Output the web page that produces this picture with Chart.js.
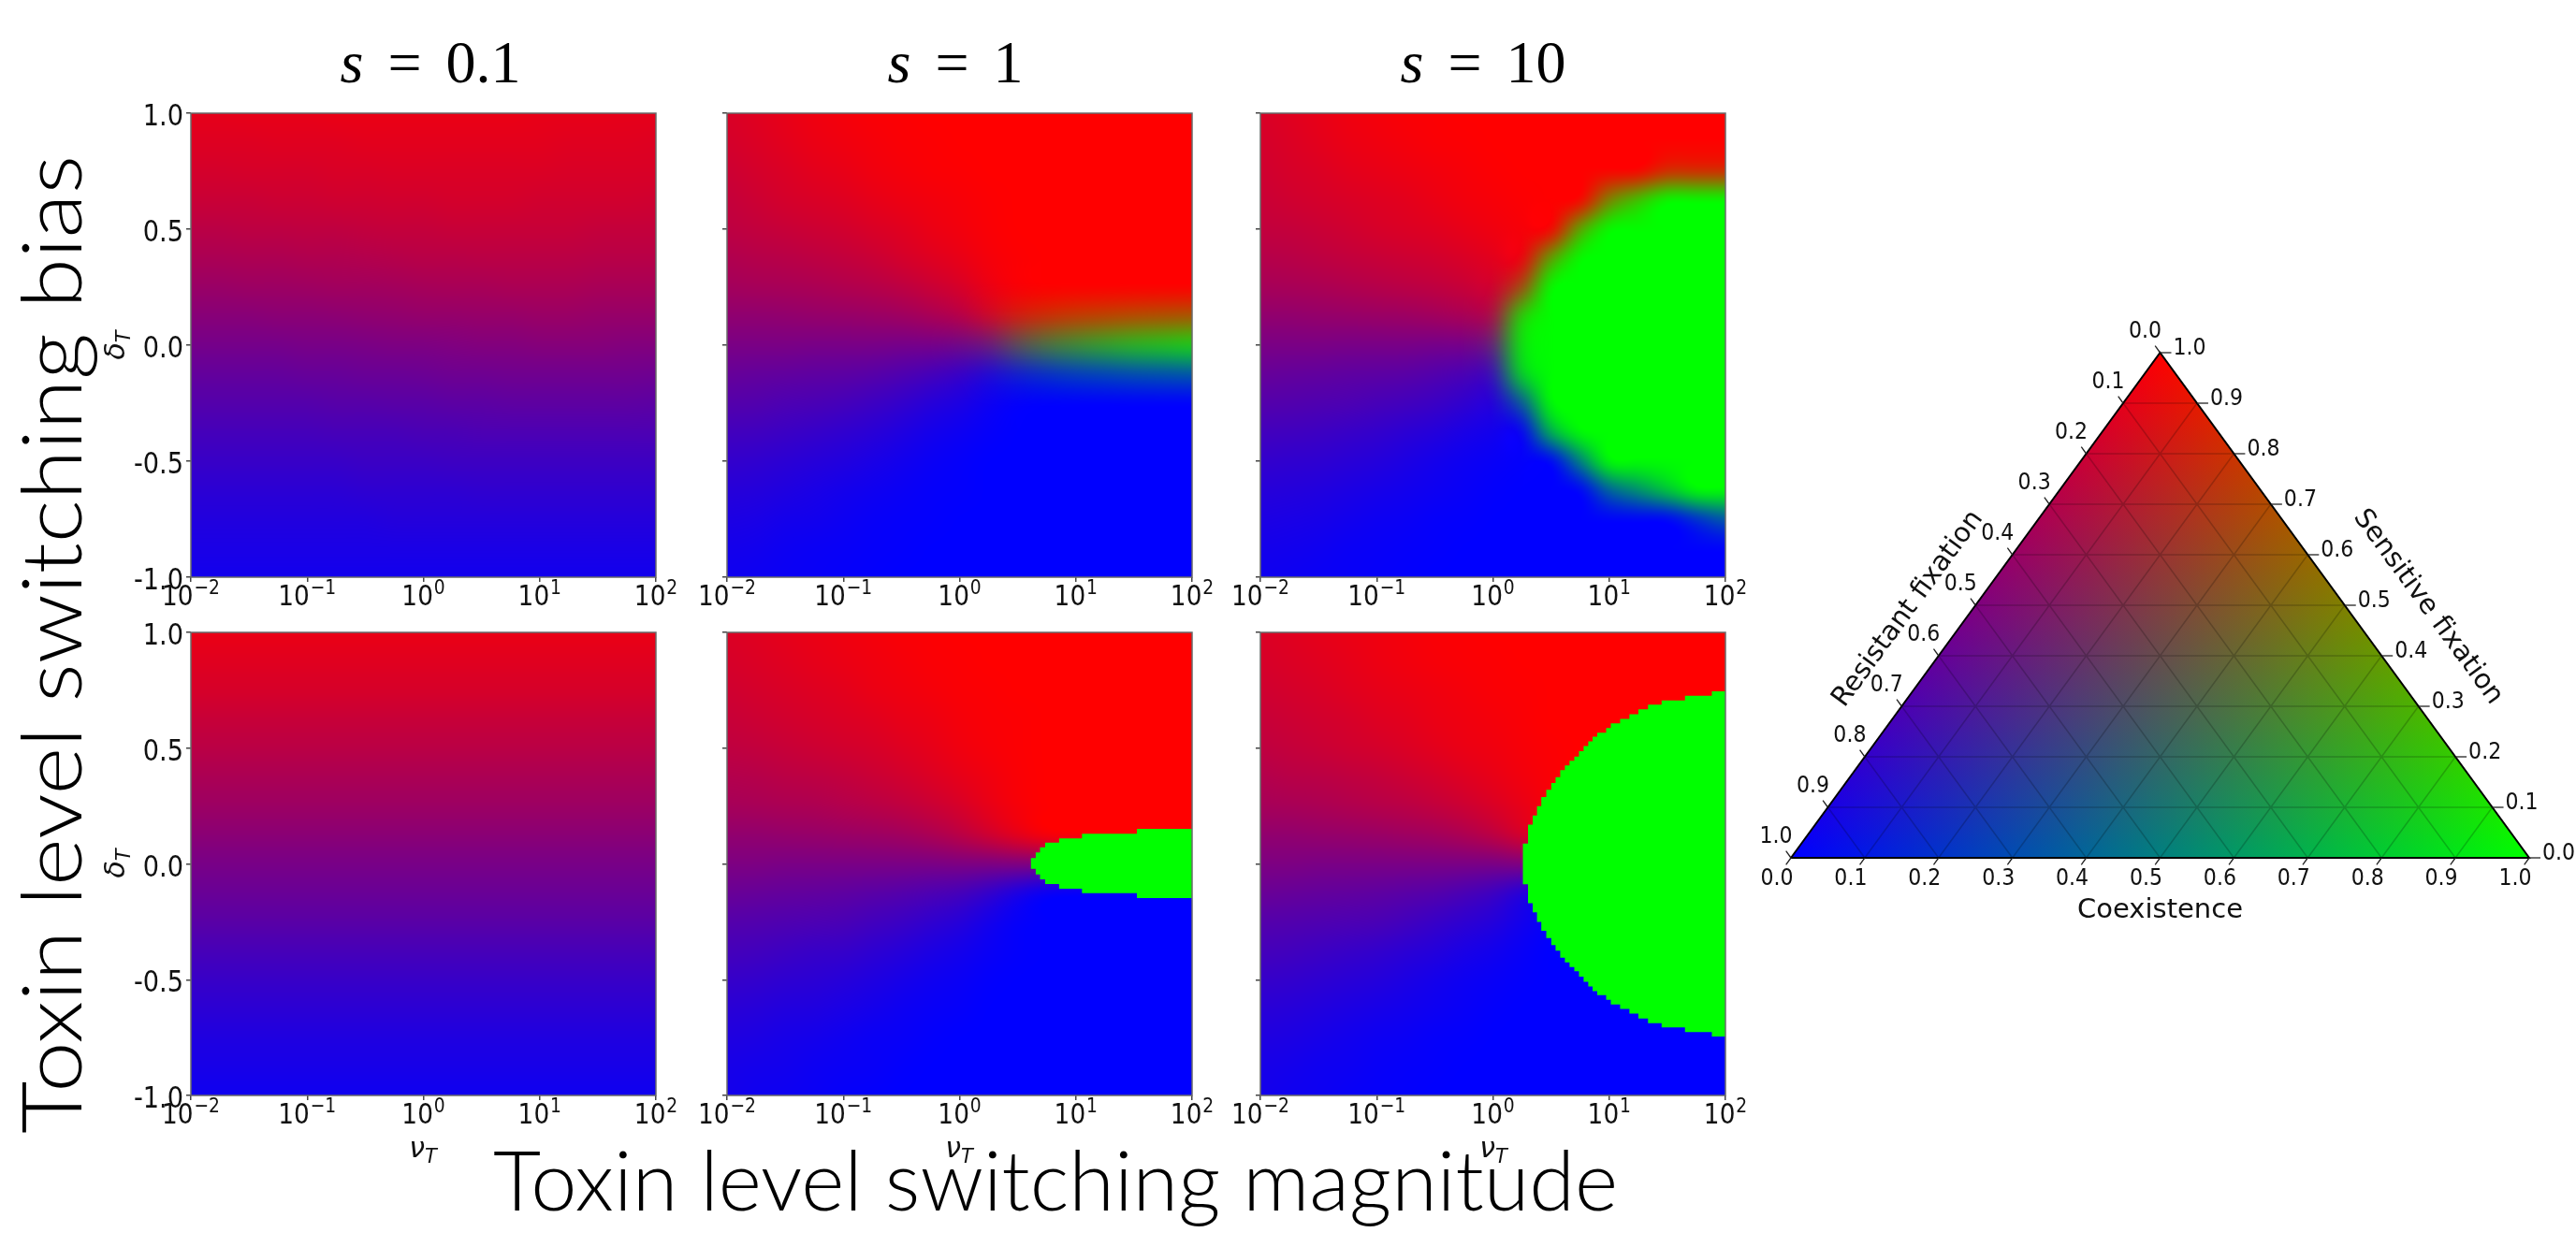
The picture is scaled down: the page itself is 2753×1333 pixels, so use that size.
<!DOCTYPE html>
<html>
<head>
<meta charset="utf-8">
<title>Toxin level switching</title>
<script src="https://cdn.jsdelivr.net/npm/chart.js@4.4.1/dist/chart.umd.min.js"></script>
<style>
  html, body { margin: 0; padding: 0; background: #fff; }
  #page { position: relative; width: 2753px; height: 1333px; overflow: hidden; background: #fff; }
  .box { position: absolute; }
  .box canvas { display: block; }
  #labels { position: absolute; left: 0; top: 0; pointer-events: none; z-index: 5; }
</style>
</head>
<body>
<div id="page">
<svg id="labels" width="2753" height="1333" xmlns="http://www.w3.org/2000/svg">
  <g font-family="Liberation Serif, serif" font-size="64" text-anchor="middle" fill="#000" word-spacing="10">
    <text x="460" y="88"><tspan font-style="italic">s</tspan> = 0.1</text>
    <text x="1021" y="88"><tspan font-style="italic">s</tspan> = 1</text>
    <text x="1585" y="88"><tspan font-style="italic">s</tspan> = 10</text>
  </g>
  <g font-family="DejaVu Sans" font-size="30" font-style="italic" fill="#111" text-anchor="middle">
    <text transform="translate(133,369) rotate(-90)">δ<tspan font-size="21" dy="6">T</tspan></text>
    <text transform="translate(133,923) rotate(-90)">δ<tspan font-size="21" dy="6">T</tspan></text>
    <text x="452" y="1237">ν<tspan font-size="21" dy="6">T</tspan></text>
    <text x="1025" y="1237">ν<tspan font-size="21" dy="6">T</tspan></text>
    <text x="1596" y="1237">ν<tspan font-size="21" dy="6">T</tspan></text>
  </g>
  <g font-family="Lato, sans-serif" font-weight="300" font-size="88" fill="#000">
    <text x="527" y="1294" textLength="1202" lengthAdjust="spacingAndGlyphs">Toxin level switching magnitude</text>
    <text transform="translate(87,1212) rotate(-90)" textLength="1046" lengthAdjust="spacingAndGlyphs">Toxin level switching bias</text>
  </g>
</svg>
</div>
<script>
// grid of the simulations: columns are log10(nu_T), rows are delta_T (top to bottom)
const logNu = [-2, -1.75, -1.5, -1.25, -1, -0.75, -0.5, -0.25, 0, 0.25, 0.5, 0.75, 1, 1.25, 1.5, 1.75, 2];
const deltaT = [1, 0.875, 0.75, 0.625, 0.5, 0.375, 0.25, 0.125, 0, -0.125, -0.25, -0.375, -0.5, -0.625, -0.75, -0.875, -1];

const xTickValues = [0.01, 0.1, 1, 10, 100];
const xTickLabels = ['10^−2', '10^−1', '10^0', '10^1', '10^2'];
const yTickValues = [-1, -0.5, 0, 0.5, 1];
const yTickLabels = ['-1.0', '-0.5', '0.0', '0.5', '1.0'];
const panelTitles = ['s = 0.1', 's = 1', 's = 10'];

// sensitive share of the fixations, percent (sensitive / (sensitive + resistant))
const redTopS01 = [
  [90,90,91,91,91,92,92,92,92,92,92,92,91,91,91,90,90],
  [87,87,87,88,88,88,89,89,89,89,89,89,89,88,88,88,87],
  [83,83,84,84,84,85,85,86,86,86,86,86,86,85,85,85,85],
  [79,79,79,80,80,81,81,82,82,83,83,83,82,82,82,82,81],
  [73,73,74,74,75,75,76,77,77,78,78,78,78,78,77,77,77],
  [67,67,68,68,69,69,70,71,72,72,73,73,73,73,72,72,72],
  [60,60,61,61,62,63,63,64,65,66,66,67,67,67,66,66,66],
  [53,53,53,54,54,55,56,57,58,58,59,59,60,60,59,59,59],
  [46,46,46,46,47,47,48,49,49,50,51,51,52,52,52,51,51],
  [39,39,39,39,40,40,41,41,42,43,43,44,44,44,44,44,43],
  [33,33,33,33,33,34,34,35,35,36,36,37,37,37,37,37,36],
  [27,27,27,27,27,28,28,28,29,29,30,30,30,30,30,30,30],
  [22,22,22,22,22,22,23,23,23,24,24,24,24,24,24,24,24],
  [17,17,17,17,17,17,18,18,18,18,19,19,19,19,19,19,19],
  [13,13,13,13,13,13,13,14,14,14,14,14,14,14,14,14,14],
  [10,10,10,10,10,10,10,10,10,10,10,10,10,10,10,10,10],
  [7,7,7,7,7,7,7,7,7,7,7,7,7,7,7,7,7]
];
const redTopS1 = [
  [85,88,91,94,96,98,99,100,100,100,100,100,100,100,100,100,100],
  [83,86,89,92,94,96,98,99,100,100,100,100,100,100,100,100,100],
  [80,83,86,89,91,94,96,98,99,100,100,100,100,100,100,100,100],
  [77,80,83,85,87,90,93,95,97,99,100,100,100,100,100,100,100],
  [74,76,78,80,82,85,88,92,95,98,100,100,100,100,100,100,100],
  [69,71,72,74,76,79,83,87,91,96,99,100,100,100,100,100,100],
  [64,65,66,67,69,71,74,79,84,92,98,100,100,100,100,100,100],
  [56,56,57,58,59,60,62,66,71,82,92,97,99,100,100,100,100],
  [48,48,48,47,47,47,46,46,45,46,50,52,52,52,52,52,52],
  [40,39,38,37,36,34,31,27,22,14,8,4,2,1,1,0,0],
  [33,32,30,29,27,24,20,15,11,5,1,0,0,0,0,0,0],
  [26,25,23,21,19,16,12,8,5,2,0,0,0,0,0,0,0],
  [20,19,17,15,13,10,7,4,2,0,0,0,0,0,0,0,0],
  [15,14,12,10,8,6,4,2,1,0,0,0,0,0,0,0,0],
  [11,10,8,7,5,3,2,1,0,0,0,0,0,0,0,0,0],
  [8,7,5,4,3,2,1,0,0,0,0,0,0,0,0,0,0],
  [6,5,4,3,2,1,0,0,0,0,0,0,0,0,0,0,0]
];
const redTopS10 = [
  [85,88,91,94,96,98,99,100,100,100,100,100,100,100,100,100,100],
  [83,86,89,92,94,96,98,99,100,100,100,100,100,100,100,100,100],
  [81,84,86,89,91,93,95,97,99,100,100,100,100,100,100,100,100],
  [79,81,83,85,87,89,92,95,97,99,100,100,100,100,100,100,100],
  [76,77,79,81,84,86,88,91,94,97,99,100,100,100,100,100,100],
  [71,72,74,76,78,80,82,85,89,94,98,100,100,100,100,100,100],
  [65,66,67,69,71,73,75,78,82,90,97,100,100,100,100,100,100],
  [57,57,58,59,60,61,63,66,70,80,92,97,100,100,100,100,100],
  [48,48,48,47,47,47,46,46,45,47,50,50,50,50,50,50,50],
  [40,39,38,37,36,35,32,29,24,15,6,2,0,0,0,0,0],
  [33,32,31,30,28,26,23,19,14,7,2,0,0,0,0,0,0],
  [26,25,24,22,20,17,14,10,7,3,0,0,0,0,0,0,0],
  [20,19,18,16,14,11,8,5,3,1,0,0,0,0,0,0,0],
  [15,14,13,11,9,7,5,3,1,0,0,0,0,0,0,0,0],
  [11,10,9,7,5,4,2,1,0,0,0,0,0,0,0,0,0],
  [8,7,6,4,3,2,1,0,0,0,0,0,0,0,0,0,0],
  [6,5,4,3,2,1,0,0,0,0,0,0,0,0,0,0,0]
];
const redBotS01 = [
  [92,92,92,92,92,92,92,92,92,92,92,92,92,92,92,92,92],
  [88,88,88,88,88,88,88,88,88,88,88,88,88,88,88,88,88],
  [84,84,84,84,84,84,84,84,84,84,84,84,84,84,84,84,84],
  [78,78,78,78,78,78,78,78,78,78,78,78,78,78,78,78,78],
  [73,73,73,73,73,73,73,73,73,73,73,73,73,73,73,73,73],
  [67,67,67,67,67,67,67,67,67,67,67,67,67,67,67,67,67],
  [61,61,61,61,61,61,61,61,61,61,61,61,61,61,61,61,61],
  [54,54,54,54,54,54,54,54,54,54,54,54,54,54,54,54,54],
  [47,47,47,47,47,47,47,47,47,47,47,47,47,47,47,47,47],
  [41,41,41,41,41,41,41,41,41,41,41,41,41,41,41,41,41],
  [35,35,35,35,35,35,35,35,35,35,35,35,35,35,35,35,35],
  [28,28,28,28,28,28,28,28,28,28,28,28,28,28,28,28,28],
  [22,22,22,22,22,22,22,22,22,22,22,22,22,22,22,22,22],
  [17,17,17,17,17,17,17,17,17,17,17,17,17,17,17,17,17],
  [12,12,12,12,12,12,12,12,12,12,12,12,12,12,12,12,12],
  [9,9,9,9,9,9,9,9,9,9,9,9,9,9,9,9,9],
  [6,6,6,6,6,6,6,6,6,6,6,6,6,6,6,6,6]
];
const redBotS1 = [
  [86,88,90,92,94,96,98,99,100,100,100,100,100,100,100,100,100],
  [84,86,88,90,92,94,96,98,99,100,100,100,100,100,100,100,100],
  [81,83,85,87,89,92,94,96,98,99,100,100,100,100,100,100,100],
  [78,80,82,84,86,88,91,93,96,98,99,100,100,100,100,100,100],
  [75,76,78,80,82,84,87,90,94,97,99,100,100,100,100,100,100],
  [70,71,73,74,76,79,82,86,90,94,98,100,100,100,100,100,100],
  [65,66,67,68,70,72,75,79,84,91,97,100,100,100,100,100,100],
  [57,57,58,59,60,61,63,67,73,81,90,98,100,100,100,100,100],
  [49,49,48,48,48,48,48,48,49,49,50,50,50,50,50,50,50],
  [41,40,39,38,37,35,33,30,27,20,10,2,0,0,0,0,0],
  [33,32,31,30,29,26,23,19,15,8,2,0,0,0,0,0,0],
  [27,26,24,22,21,18,15,11,8,4,1,0,0,0,0,0,0],
  [21,20,18,17,15,12,9,6,4,1,0,0,0,0,0,0,0],
  [16,15,13,12,10,8,5,3,2,0,0,0,0,0,0,0,0],
  [12,11,9,8,6,4,3,1,0,0,0,0,0,0,0,0,0],
  [9,8,7,5,4,3,1,0,0,0,0,0,0,0,0,0,0],
  [8,6,5,4,2,1,0,0,0,0,0,0,0,0,0,0,0]
];
const redBotS10 = [
  [86,88,90,92,94,96,98,99,100,100,100,100,100,100,100,100,100],
  [84,86,88,90,93,95,97,98,99,100,100,100,100,100,100,100,100],
  [81,83,85,88,90,92,94,96,98,99,100,100,100,100,100,100,100],
  [78,80,82,84,87,89,92,94,96,98,100,100,100,100,100,100,100],
  [75,77,79,81,83,86,89,92,94,97,99,100,100,100,100,100,100],
  [70,72,73,75,77,80,83,87,91,95,98,100,100,100,100,100,100],
  [65,66,67,69,71,73,76,80,85,91,97,100,100,100,100,100,100],
  [57,57,58,59,60,62,64,68,74,84,95,100,100,100,100,100,100],
  [49,49,48,48,48,48,48,48,48,50,50,50,50,50,50,50,50],
  [41,40,39,38,37,35,33,29,24,14,4,0,0,0,0,0,0],
  [33,32,31,30,29,26,22,18,14,7,2,0,0,0,0,0,0],
  [27,26,24,22,20,17,14,10,7,3,0,0,0,0,0,0,0],
  [21,20,18,16,14,11,8,5,3,1,0,0,0,0,0,0,0],
  [16,15,13,11,9,7,5,3,1,0,0,0,0,0,0,0,0],
  [12,11,9,7,5,4,2,1,0,0,0,0,0,0,0,0,0],
  [9,8,6,5,3,2,1,0,0,0,0,0,0,0,0,0,0],
  [8,6,5,3,2,1,0,0,0,0,0,0,0,0,0,0,0]
];

// coexistence probability, percent (top row, smooth)
const greenTopS1 = [
  [0,0,0,0,0,0,0,0,0,0,0,0,0,0,0,0,0],
  [0,0,0,0,0,0,0,0,0,0,0,0,0,0,0,0,0],
  [0,0,0,0,0,0,0,0,0,0,0,0,0,0,0,0,0],
  [0,0,0,0,0,0,0,0,0,0,0,0,0,0,0,0,0],
  [0,0,0,0,0,0,0,0,0,0,0,0,0,0,0,0,0],
  [0,0,0,0,0,0,0,0,0,0,0,0,0,0,0,0,0],
  [0,0,0,0,0,0,0,0,0,0,0,0,0,0,0,0,0],
  [0,0,0,0,0,0,0,0,0,4,12,19,24,27,30,32,34],
  [0,0,0,0,0,0,0,0,3,10,30,45,55,63,70,75,80],
  [0,0,0,0,0,0,0,0,0,4,12,19,24,27,30,32,34],
  [0,0,0,0,0,0,0,0,0,0,0,0,0,0,0,0,0],
  [0,0,0,0,0,0,0,0,0,0,0,0,0,0,0,0,0],
  [0,0,0,0,0,0,0,0,0,0,0,0,0,0,0,0,0],
  [0,0,0,0,0,0,0,0,0,0,0,0,0,0,0,0,0],
  [0,0,0,0,0,0,0,0,0,0,0,0,0,0,0,0,0],
  [0,0,0,0,0,0,0,0,0,0,0,0,0,0,0,0,0],
  [0,0,0,0,0,0,0,0,0,0,0,0,0,0,0,0,0]
];
const greenTopS10 = [
  [0,0,0,0,0,0,0,0,0,0,0,0,0,0,0,0,0],
  [0,0,0,0,0,0,0,0,0,0,0,0,0,0,0,0,0],
  [0,0,0,0,0,0,0,0,0,0,0,0,0,0,17,17,17],
  [0,0,0,0,0,0,0,0,0,0,0,0,52,78,100,100,100],
  [0,0,0,0,0,0,0,0,0,0,0,66,100,100,100,100,100],
  [0,0,0,0,0,0,0,0,0,0,63,100,100,100,100,100,100],
  [0,0,0,0,0,0,0,0,0,30,100,100,100,100,100,100,100],
  [0,0,0,0,0,0,0,0,7,82,100,100,100,100,100,100,100],
  [0,0,0,0,0,0,0,0,15,90,100,100,100,100,100,100,100],
  [0,0,0,0,0,0,0,0,7,82,100,100,100,100,100,100,100],
  [0,0,0,0,0,0,0,0,0,35,100,100,100,100,100,100,100],
  [0,0,0,0,0,0,0,0,0,0,69,100,100,100,100,100,100],
  [0,0,0,0,0,0,0,0,0,0,0,50,100,100,100,100,100],
  [0,0,0,0,0,0,0,0,0,0,0,0,38,57,78,100,100],
  [0,0,0,0,0,0,0,0,0,0,0,0,0,0,0,17,34],
  [0,0,0,0,0,0,0,0,0,0,0,0,0,0,0,0,0],
  [0,0,0,0,0,0,0,0,0,0,0,0,0,0,0,0,0]
];

// coexistence regions of the bottom row (sharp): log10(nu) where a step starts, top and bottom delta
const greenLogNuS1 = [0.612, 0.655, 0.692, 0.736, 0.856, 1.053, 1.525, 2.0];
const greenTopBotS1 = [0.025, 0.05, 0.072, 0.092, 0.110, 0.130, 0.152, 0.152];
const greenLowBotS1 = [-0.021, -0.045, -0.067, -0.087, -0.107, -0.126, -0.147, -0.147];

const greenLogNuS10 = [0.256, 0.302, 0.342, 0.379, 0.416, 0.459, 0.502, 0.539, 0.579, 0.619, 0.659, 0.700, 0.740, 0.780, 0.820, 0.857, 0.897, 0.974, 1.014, 1.094, 1.174, 1.251, 1.334, 1.451, 1.652, 1.883, 2.0];
const greenTopBotS10 = [0.088, 0.170, 0.209, 0.250, 0.289, 0.320, 0.350, 0.375, 0.405, 0.425, 0.445, 0.464, 0.487, 0.509, 0.529, 0.549, 0.567, 0.587, 0.607, 0.626, 0.646, 0.668, 0.688, 0.706, 0.726, 0.745, 0.745];
const greenLowBotS10 = [-0.088, -0.170, -0.209, -0.250, -0.289, -0.320, -0.350, -0.375, -0.405, -0.425, -0.445, -0.464, -0.487, -0.509, -0.529, -0.549, -0.567, -0.587, -0.607, -0.626, -0.646, -0.668, -0.688, -0.706, -0.726, -0.745, -0.745];

// ternary colour key
const ternaryTicks = [0, 0.1, 0.2, 0.3, 0.4, 0.5, 0.6, 0.7, 0.8, 0.9, 1];
const ternaryTickLabels = ['0.0', '0.1', '0.2', '0.3', '0.4', '0.5', '0.6', '0.7', '0.8', '0.9', '1.0'];
const ternaryTitles = ['Coexistence', 'Sensitive fixation', 'Resistant fixation'];

Chart.defaults.font.family = 'DejaVu Sans';
Chart.defaults.color = '#111';

const page = document.getElementById('page');
const LW = 100, PT = 24, PR = 44, BH = 60;
const SX = 0.85;   // the figure's text is narrower than the font's natural width

function heatmapLayer(p) {
  const red = p.red, green = p.green;
  return {
    id: 'heatmap',
    beforeDatasetsDraw(chart) {
      const {ctx, chartArea: a, scales: {x, y}} = chart;
      const nx = logNu.length, ny = deltaT.length;
      const img = document.createElement('canvas');
      img.width = nx; img.height = ny;
      const ic = img.getContext('2d');
      const px = ic.createImageData(nx, ny);
      for (let r = 0; r < ny; r++) {
        for (let c = 0; c < nx; c++) {
          const g = green ? green[r][c] / 100 : 0;
          const s = red[r][c] / 100;
          const k = 4 * (r * nx + c);
          px.data[k] = Math.round(255 * (1 - g) * s);
          px.data[k + 1] = Math.round(255 * g);
          px.data[k + 2] = Math.round(255 * (1 - g) * (1 - s));
          px.data[k + 3] = 255;
        }
      }
      ic.putImageData(px, 0, 0);
      const hx = (logNu[1] - logNu[0]) / 2, hy = (deltaT[0] - deltaT[1]) / 2;
      const left = x.getPixelForValue(Math.pow(10, logNu[0] - hx));
      const right = x.getPixelForValue(Math.pow(10, logNu[nx - 1] + hx));
      const top = y.getPixelForValue(deltaT[0] + hy);
      const bottom = y.getPixelForValue(deltaT[ny - 1] - hy);
      ctx.save();
      ctx.beginPath();
      ctx.rect(a.left, a.top, a.right - a.left, a.bottom - a.top);
      ctx.clip();
      ctx.imageSmoothingEnabled = true;
      ctx.imageSmoothingQuality = 'high';
      ctx.drawImage(img, left, top, right - left, bottom - top);
      ctx.restore();
    },
    afterDatasetsDraw(chart) {
      const {ctx, chartArea: a} = chart;
      ctx.save();
      ctx.strokeStyle = '#6a6a6a';
      ctx.lineWidth = 1.5;
      ctx.strokeRect(a.left, a.top, a.right - a.left, a.bottom - a.top);
      ctx.restore();
    },
    afterDraw(chart) {
      // tick labels, matplotlib mathtext style (base + raised exponent)
      const {ctx, chartArea: a, scales: {x, y}} = chart;
      ctx.save();
      ctx.fillStyle = '#111';
      ctx.textBaseline = 'alphabetic';
      ctx.textAlign = 'left';
      xTickValues.forEach((v, i) => {
        const [base, exp] = xTickLabels[i].split('^');
        ctx.font = '31px "DejaVu Sans"';
        const wb = ctx.measureText(base).width;
        ctx.font = '22px "DejaVu Sans"';
        const we = ctx.measureText(exp).width;
        const total = wb + 1 + we;
        ctx.save();
        ctx.translate(x.getPixelForValue(v), a.bottom + 30);
        ctx.scale(SX, 1);
        ctx.font = '31px "DejaVu Sans"';
        ctx.fillText(base, -total / 2, 0);
        ctx.font = '22px "DejaVu Sans"';
        ctx.fillText(exp, -total / 2 + wb + 1, -12);
        ctx.restore();
      });
      if (p.yLabels) {
        ctx.textAlign = 'right';
        ctx.font = '32px "DejaVu Sans"';
        yTickValues.forEach((v, i) => {
          ctx.save();
          ctx.translate(a.left - 8, y.getPixelForValue(v) + 13);
          ctx.scale(SX, 1);
          ctx.fillText(yTickLabels[i], 0, 0);
          ctx.restore();
        });
      }
      ctx.restore();
    }
  };
}

function makePanel(p) {
  const [x0, y0, x1, y1] = p.rect;
  const w = x1 - x0 + LW + PR, h = y1 - y0 + PT + BH;
  const div = document.createElement('div');
  div.className = 'box';
  div.style.left = (x0 - LW) + 'px';
  div.style.top = (y0 - PT) + 'px';
  div.style.width = w + 'px';
  div.style.height = h + 'px';
  const cv = document.createElement('canvas');
  cv.width = w; cv.height = h;
  div.appendChild(cv);
  page.appendChild(div);

  const datasets = [];
  if (p.sharp) {
    datasets.push({
      data: p.sharp.nu.map((l, i) => ({x: Math.pow(10, l), y: p.sharp.top[i]})),
      stepped: true, fill: '+1', backgroundColor: 'rgb(0,255,0)',
      borderColor: 'rgba(0,0,0,0)', borderWidth: 0, pointRadius: 0
    });
    datasets.push({
      data: p.sharp.nu.map((l, i) => ({x: Math.pow(10, l), y: p.sharp.low[i]})),
      stepped: true, fill: false,
      borderColor: 'rgba(0,0,0,0)', borderWidth: 0, pointRadius: 0
    });
  }

  new Chart(cv, {
    type: 'line',
    data: {datasets},
    options: {
      responsive: false,
      animation: false,
      devicePixelRatio: 1,
      layout: {padding: {left: 0, top: PT, right: PR, bottom: 0}},
      plugins: {legend: {display: false}, tooltip: {enabled: false}, title: {display: false}},
      scales: {
        x: {
          type: 'logarithmic', min: 0.01, max: 100, position: 'bottom',
          afterBuildTicks: s => { s.ticks = xTickValues.map(v => ({value: v})); },
          afterFit: s => { s.height = BH; },
          ticks: {display: false, autoSkip: false, maxRotation: 0},
          grid: {drawOnChartArea: false, drawTicks: true, tickLength: 5, color: '#444', lineWidth: 1.5},
          border: {display: false}
        },
        y: {
          type: 'linear', min: -1, max: 1,
          afterBuildTicks: s => { s.ticks = yTickValues.map(v => ({value: v})); },
          afterFit: s => { s.width = LW; },
          ticks: {display: false},
          grid: {drawOnChartArea: false, drawTicks: true, tickLength: 5, color: '#444', lineWidth: 1.5},
          border: {display: false}
        }
      }
    },
    plugins: [heatmapLayer(p)]
  });
}

const panels = [
  {title: panelTitles[0], rect: [204, 121, 701, 617], red: redTopS01, green: null, yLabels: true},
  {title: panelTitles[1], rect: [777, 121, 1274, 617], red: redTopS1, green: greenTopS1, yLabels: false},
  {title: panelTitles[2], rect: [1347, 121, 1844, 617], red: redTopS10, green: greenTopS10, yLabels: false},
  {rect: [204, 676, 701, 1171], red: redBotS01, green: null, yLabels: true},
  {rect: [777, 676, 1274, 1171], red: redBotS1, green: null, yLabels: false,
    sharp: {nu: greenLogNuS1, top: greenTopBotS1, low: greenLowBotS1}},
  {rect: [1347, 676, 1844, 1171], red: redBotS10, green: null, yLabels: false,
    sharp: {nu: greenLogNuS10, top: greenTopBotS10, low: greenLowBotS10}}
];
panels.forEach(makePanel);

// ---- ternary key ----
function tern(s, c) { return {x: c + s / 2, y: s}; }   // s = sensitive, c = coexistence

const gridPts = [];
ternaryTicks.slice(1, -1).forEach(v => {
  gridPts.push(tern(v, 0), tern(v, 1 - v), {x: null, y: null});
  gridPts.push(tern(0, v), tern(1 - v, v), {x: null, y: null});
  gridPts.push(tern(0, 1 - v), tern(1 - v, 0), {x: null, y: null});
});

const ternaryLayer = {
  id: 'ternary',
  beforeDatasetsDraw(chart) {
    const {ctx, scales: {x, y}} = chart;
    const P = (s, c) => { const q = tern(s, c); return [x.getPixelForValue(q.x), y.getPixelForValue(q.y)]; };
    const T = P(1, 0), L = P(0, 0), R = P(0, 1);
    const off = document.createElement('canvas');
    off.width = chart.width; off.height = chart.height;
    const o = off.getContext('2d');
    o.globalCompositeOperation = 'lighter';
    [[T, L, R, '255,0,0'], [L, R, T, '0,0,255'], [R, T, L, '0,255,0']].forEach(([v, a, b, col]) => {
      const dx = b[0] - a[0], dy = b[1] - a[1];
      const t = ((v[0] - a[0]) * dx + (v[1] - a[1]) * dy) / (dx * dx + dy * dy);
      const g = o.createLinearGradient(v[0], v[1], a[0] + t * dx, a[1] + t * dy);
      g.addColorStop(0, 'rgb(' + col + ')');
      g.addColorStop(1, 'rgb(0,0,0)');
      o.fillStyle = g;
      o.beginPath(); o.moveTo(T[0], T[1]); o.lineTo(L[0], L[1]); o.lineTo(R[0], R[1]); o.closePath();
      o.fill();
    });
    ctx.drawImage(off, 0, 0);
  },
  afterDatasetsDraw(chart) {
    const {ctx, scales: {x, y}} = chart;
    const P = (s, c) => { const q = tern(s, c); return [x.getPixelForValue(q.x), y.getPixelForValue(q.y)]; };
    const T = P(1, 0), L = P(0, 0), R = P(0, 1);
    const unit = (a, b) => { const dx = b[0] - a[0], dy = b[1] - a[1], n = Math.hypot(dx, dy); return [dx / n, dy / n]; };
    const dBottom = unit(T, L), dLeft = unit(R, T);
    const label = (txt, px, py, align) => {
      ctx.save();
      ctx.translate(px, py);
      ctx.scale(0.92, 1);
      ctx.textAlign = align;
      ctx.fillText(txt, 0, 0);
      ctx.restore();
    };
    ctx.save();
    ctx.strokeStyle = '#222';
    ctx.lineWidth = 1.3;
    ctx.fillStyle = '#111';
    ctx.font = '24px "DejaVu Sans"';
    ctx.textBaseline = 'middle';
    ternaryTicks.forEach((v, i) => {
      // bottom: coexistence
      let p = P(0, v);
      ctx.beginPath(); ctx.moveTo(p[0], p[1]); ctx.lineTo(p[0] + 9 * dBottom[0], p[1] + 9 * dBottom[1]); ctx.stroke();
      label(ternaryTickLabels[i], p[0] - 15, p[1] + 23, 'center');
      // right: sensitive fixation
      p = P(v, 1 - v);
      ctx.beginPath(); ctx.moveTo(p[0], p[1]); ctx.lineTo(p[0] + 12, p[1]); ctx.stroke();
      label(ternaryTickLabels[i], p[0] + 14, p[1] - 4, 'left');
      // left: resistant fixation
      p = P(1 - v, 0);
      ctx.beginPath(); ctx.moveTo(p[0], p[1]); ctx.lineTo(p[0] + 9 * dLeft[0], p[1] + 9 * dLeft[1]); ctx.stroke();
      label(ternaryTickLabels[i], p[0] - 16, p[1] - 22, 'center');
    });
    ctx.font = '29px "DejaVu Sans"';
    ctx.textAlign = 'center';
    ctx.fillText(ternaryTitles[0], (L[0] + R[0]) / 2, L[1] + 56);
    const angL = Math.atan2(T[1] - L[1], T[0] - L[0]);
    ctx.save();
    ctx.translate((L[0] + T[0]) / 2 - 72, (L[1] + T[1]) / 2 + 4);
    ctx.rotate(angL);
    ctx.fillText(ternaryTitles[2], 0, 0);
    ctx.restore();
    const angR = Math.atan2(R[1] - T[1], R[0] - T[0]);
    ctx.save();
    ctx.translate((R[0] + T[0]) / 2 + 89, (R[1] + T[1]) / 2 + 2);
    ctx.rotate(angR);
    ctx.fillText(ternaryTitles[1], 0, 0);
    ctx.restore();
    ctx.restore();
  }
};

(function makeTernary() {
  const left = 1840, top = 320, w = 913, h = 700;
  const div = document.createElement('div');
  div.className = 'box';
  div.style.left = left + 'px'; div.style.top = top + 'px';
  div.style.width = w + 'px'; div.style.height = h + 'px';
  const cv = document.createElement('canvas');
  cv.width = w; cv.height = h;
  div.appendChild(cv);
  page.appendChild(div);
  new Chart(cv, {
    type: 'scatter',
    data: {
      datasets: [
        {data: [tern(0, 0), tern(0, 1), tern(1, 0), tern(0, 0)], showLine: true,
          borderColor: '#000', borderWidth: 2, pointRadius: 0, clip: false},
        {data: gridPts, showLine: true, spanGaps: false,
          borderColor: 'rgba(0,0,0,0.2)', borderWidth: 1.5, pointRadius: 0, clip: false}
      ]
    },
    options: {
      responsive: false,
      animation: false,
      devicePixelRatio: 1,
      layout: {padding: {left: 1914 - left, top: 377 - top, right: left + w - 2703, bottom: top + h - 917}},
      plugins: {legend: {display: false}, tooltip: {enabled: false}},
      scales: {
        x: {type: 'linear', min: 0, max: 1, display: false},
        y: {type: 'linear', min: 0, max: 1, display: false}
      }
    },
    plugins: [ternaryLayer]
  });
})();
</script>
</body>
</html>
